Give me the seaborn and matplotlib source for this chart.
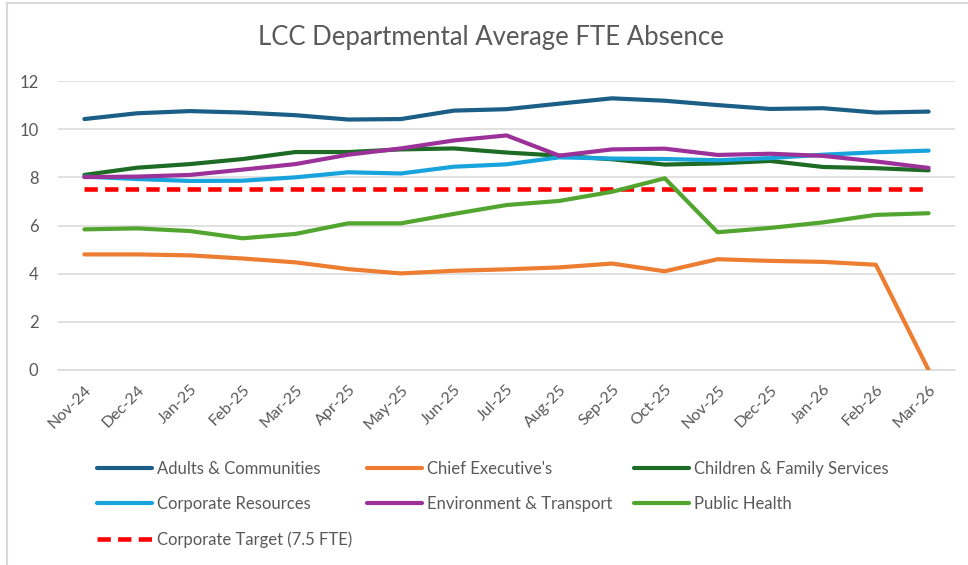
import numpy as np
import pandas as pd
import seaborn as sns
import matplotlib
matplotlib.use("Agg")
import matplotlib.pyplot as plt
from matplotlib.lines import Line2D
from matplotlib.patches import Rectangle

months = ["Nov-24", "Dec-24", "Jan-25", "Feb-25", "Mar-25", "Apr-25", "May-25", "Jun-25",
          "Jul-25", "Aug-25", "Sep-25", "Oct-25", "Nov-25", "Dec-25", "Jan-26", "Feb-26", "Mar-26"]

adults = [10.42, 10.66, 10.75, 10.69, 10.58, 10.40, 10.42, 10.77, 10.83, 11.06, 11.28, 11.18,
          11.00, 10.84, 10.87, 10.69, 10.73]
chief_exec = [4.80, 4.80, 4.76, 4.63, 4.47, 4.19, 4.01, 4.12, 4.18, 4.26, 4.42, 4.10,
              4.60, 4.53, 4.49, 4.37, 0.0]
children = [8.10, 8.40, 8.55, 8.76, 9.05, 9.05, 9.16, 9.20, 9.03, 8.90, 8.75, 8.53,
            8.58, 8.68, 8.43, 8.38, 8.29]
corporate = [8.03, 7.93, 7.85, 7.86, 8.00, 8.21, 8.16, 8.44, 8.54, 8.83, 8.78, 8.76,
             8.71, 8.80, 8.94, 9.04, 9.11]
environment = [8.01, 8.03, 8.10, 8.32, 8.55, 8.94, 9.20, 9.53, 9.74, 8.90, 9.16, 9.19,
               8.93, 8.98, 8.89, 8.66, 8.39]
public_health = [5.84, 5.88, 5.77, 5.47, 5.65, 6.09, 6.09, 6.48, 6.85, 7.02, 7.40, 7.96,
                 5.72, 5.90, 6.13, 6.44, 6.51]
target = [7.5] * len(months)

series_names = ["Adults & Communities", "Chief Executive's", "Children & Family Services",
                "Corporate Resources", "Environment & Transport", "Public Health"]
target_name = "Corporate Target (7.5 FTE)"
y_ticks = [0, 2, 4, 6, 8, 10, 12]

colors = {
    "Adults & Communities": "#1B5E86",
    "Chief Executive's": "#ED7D31",
    "Children & Family Services": "#1D6B24",
    "Corporate Resources": "#17A3DC",
    "Environment & Transport": "#9B3199",
    "Public Health": "#52A62F",
}
target_color = "#FF0000"

df = pd.DataFrame({"idx": np.arange(len(months)), "Month": months,
                   series_names[0]: adults, series_names[1]: chief_exec,
                   series_names[2]: children, series_names[3]: corporate,
                   series_names[4]: environment, series_names[5]: public_health})
long = df.melt(id_vars=["idx", "Month"], value_vars=series_names,
               var_name="Department", value_name="FTE")
tdf = pd.DataFrame({"idx": np.arange(len(months)), "FTE": target})

sns.set_theme(style="white")
plt.rcParams["font.family"] = ["Lato", "DejaVu Sans"]
text_color = "#595959"
grid_color = "#D9D9D9"

W, H = 968, 565
fig = plt.figure(figsize=(W / 100, H / 100), dpi=100)
left, right, top, bottom = 58, 955, 81, 370
ax = fig.add_axes([left / W, 1 - bottom / H, (right - left) / W, (bottom - top) / H])

lw = 3.0
sns.lineplot(data=long, x="idx", y="FTE", hue="Department", hue_order=series_names,
             palette=colors, linewidth=lw, ax=ax, legend=False, sort=False,
             solid_capstyle="round", solid_joinstyle="round", zorder=3)
sns.lineplot(data=tdf, x="idx", y="FTE", color=target_color, linewidth=3.3, ax=ax,
             legend=False, zorder=2, dashes=False)
# style the target line as dashed
ax.lines[-1].set_dashes([2.9, 1.6])
ax.lines[-1].set_dash_capstyle("butt")

ax.set_xlim(-0.5, len(months) - 0.5)
ax.set_ylim(0, 12)
ax.set_yticks(y_ticks)
ax.set_yticklabels([str(v) for v in y_ticks], color=text_color, fontsize=12)
ax.set_xticks(np.arange(len(months)))
ax.set_xticklabels(months, rotation=45, ha="right", va="top", rotation_mode="anchor",
                   color=text_color, fontsize=11.5)
ax.set_xticks(np.arange(-0.5, len(months)), minor=True)
ax.tick_params(axis="x", which="major", length=0, pad=9)
ax.tick_params(axis="x", which="minor", length=5, color=grid_color, width=1, direction="out")
ax.tick_params(axis="y", length=0, pad=14)
ax.grid(axis="y", color=grid_color, linewidth=1.1)
ax.grid(axis="x", visible=False)
ax.set_axisbelow(True)
for s in ["top", "right", "left"]:
    ax.spines[s].set_visible(False)
ax.spines["bottom"].set_color(grid_color)
ax.spines["bottom"].set_linewidth(1.1)
ax.set_xlabel("")
ax.set_ylabel("")

fig.text(491 / W, 1 - 38 / H, "LCC Departmental Average FTE Absence", ha="center",
         va="center", fontsize=18.5, color=text_color)

# legend: three columns placed like Excel's row-wise legend
def handle(name):
    if name == target_name:
        return Line2D([], [], color=target_color, linewidth=3.3, dashes=[2.9, 1.6])
    return Line2D([], [], color=colors[name], linewidth=lw, solid_capstyle="round")

columns = [
    [series_names[0], series_names[3], target_name],
    [series_names[1], series_names[4]],
    [series_names[2], series_names[5]],
]
col_x = [97, 367, 634]
for names, cx in zip(columns, col_x):
    fig.legend([handle(n) for n in names], names, loc="upper left",
               bbox_to_anchor=(cx / W, 1 - 461 / H), frameon=False, fontsize=12,
               labelcolor=text_color, handlelength=3.3, handletextpad=0.3,
               labelspacing=1.15, borderpad=0, borderaxespad=0)

fig.add_artist(Rectangle((7 / W, -0.1), 2, 1 - 3 / H + 0.1, transform=fig.transFigure,
                         facecolor="none", edgecolor=grid_color, linewidth=1.5))

fig.savefig("out.png", dpi=100)
